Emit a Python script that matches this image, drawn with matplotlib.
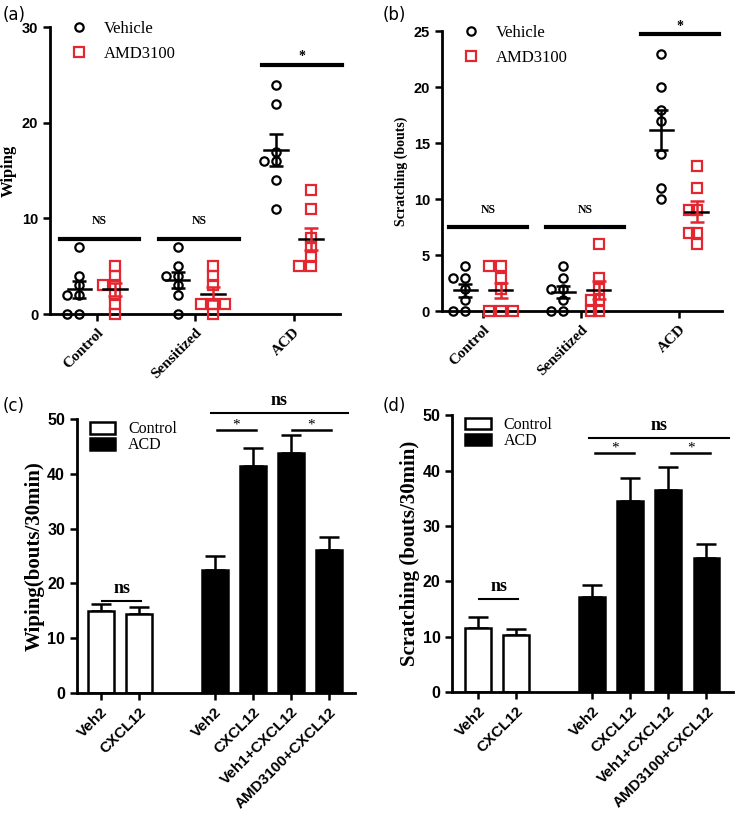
import numpy as np
import matplotlib
matplotlib.use("Agg")
import matplotlib.pyplot as plt
from matplotlib.patches import Patch
from matplotlib.lines import Line2D

# === Data ===
groups_ab = ["Control", "Sensitized", "ACD"]

wiping_vehicle = [[7, 4, 3, 2, 2, 0, 0], [7, 5, 4, 4, 3, 2, 0], [24, 22, 17, 16, 16, 14, 11]]
wiping_amd = [[5, 4, 3, 3, 2, 1, 0], [5, 4, 3, 1, 1, 1, 0], [13, 11, 8, 7, 6, 5, 5]]

scratch_vehicle = [[4, 3, 3, 2, 1, 0, 0], [4, 3, 2, 2, 1, 0, 0], [23, 20, 18, 17, 14, 11, 10]]
scratch_amd = [[4, 4, 3, 2, 0, 0, 0], [6, 3, 2, 1, 1, 0, 0], [13, 11, 9, 9, 7, 7, 6]]

bar_labels = ["Veh2", "CXCL12", "Veh2", "CXCL12", "Veh1+CXCL12", "AMD3100+CXCL12"]
bar_group = ["Control", "Control", "ACD", "ACD", "ACD", "ACD"]
wiping_mean = [14.9, 14.4, 22.4, 41.4, 43.8, 26.1]
wiping_sem = [1.3, 1.3, 2.6, 3.4, 3.4, 2.4]
scratch_mean = [11.5, 10.3, 17.1, 34.5, 36.5, 24.2]
scratch_sem = [2.0, 1.1, 2.2, 4.1, 4.1, 2.5]

RED = "#e3262f"
SERIF = "Liberation Serif"
SANS = "Liberation Sans"

fig = plt.figure(figsize=(7.39, 8.19), dpi=100)


def swarm_x(values, center, xpx, ypx, d=8.0):
    # simple beeswarm: xpx / ypx are pixels per data unit
    h = d / 2 / xpx
    placed = []
    xs = [0] * len(values)
    order = sorted(range(len(values)), key=lambda i: -values[i])
    for i in order:
        y = values[i]
        for k in [0, -1, 1, -2, 2, -3, 3, -4, 4, -5, 5]:
            x = center + k * h
            ok = all(((x - px) * xpx) ** 2 + ((y - py) * ypx) ** 2 >= d ** 2 for px, py in placed)
            if ok:
                break
        placed.append((x, y))
        xs[i] = x
    return xs


def style_axes(ax, ytick_size):
    for s in ["top", "right"]:
        ax.spines[s].set_visible(False)
    for s in ["left", "bottom"]:
        ax.spines[s].set_linewidth(2)
    ax.tick_params(width=1.8, length=5, direction="out")
    for lab in ax.get_yticklabels():
        lab.set_fontfamily(SANS)
        lab.set_fontweight("bold")
        lab.set_fontsize(ytick_size)


def scatter_panel(rect, vehicle, amd, ylim, yticks, ylabel, ylsize, ns_y, star_y, ns_spans,
                  star_span, xlim):
    ax = fig.add_axes(rect)
    off = 0.18
    w_px = rect[2] * 739 / (xlim[1] - xlim[0])
    h_px = rect[3] * 819 / (ylim[1] - ylim[0])
    for i, (v, a) in enumerate(zip(vehicle, amd)):
        c = i + 1
        for vals, x0, col, mk in [(v, c - off, "black", "o"), (a, c + off, RED, "s")]:
            ax.plot(swarm_x(vals, x0, w_px, h_px), vals, mk, mfc="none", mec=col, mew=1.6,
                    ms=6 if mk == "o" else 6.5, ls="none", clip_on=False, zorder=3)
            m = np.mean(vals)
            sem = np.std(vals, ddof=1) / np.sqrt(len(vals))
            ax.plot([x0 - 0.12, x0 + 0.12], [m, m], color="black", lw=1.8, zorder=4)
            ax.errorbar(x0, m, yerr=sem, color=col, capsize=5, elinewidth=1.8,
                        capthick=1.8, fmt="none", zorder=4)
    # significance bars
    for x1, x2 in ns_spans:
        ax.plot([x1, x2], [ns_y, ns_y], color="black", lw=3, clip_on=False)
        ax.text((x1 + x2) / 2, ns_y + (ylim[1] * 0.06), "NS", ha="center", va="center",
                fontfamily=SERIF, fontweight="bold", fontsize=8.5)
    ax.plot(star_span, [star_y, star_y], color="black", lw=3, clip_on=False)
    ax.text(np.mean(star_span), star_y + ylim[1] * 0.03, "*", ha="center", va="center",
            fontfamily=SERIF, fontweight="bold", fontsize=10)
    ax.set_xlim(*xlim)
    ax.set_ylim(*ylim)
    ax.set_yticks(yticks)
    ax.set_xticks([1, 2, 3])
    ax.set_xticklabels(groups_ab, rotation=45, ha="right", rotation_mode="anchor",
                       fontfamily=SERIF, fontweight="bold", fontsize=11)
    ax.set_ylabel(ylabel, fontfamily=SERIF, fontweight="bold", fontsize=ylsize)
    style_axes(ax, 10.5)
    handles = [Line2D([], [], marker="o", mfc="none", mec="black", mew=1.6, ms=6, ls="none"),
               Line2D([], [], marker="s", mfc="none", mec=RED, mew=1.6, ms=6.5, ls="none")]
    ax.legend(handles, ["Vehicle", "AMD3100"], loc="upper left", bbox_to_anchor=(-0.01, 1.075),
              frameon=False, prop={"family": SERIF, "size": 12}, handletextpad=0.5,
              labelspacing=0.55)
    return ax


def bar_panel(rect, means, sems, ylabel, ctrl_ns_y, top_ns_y, star_y, top_span, star_spans, xlim):
    ax = fig.add_axes(rect)
    x = np.array([0, 1, 3, 4, 5, 6])
    colors = ["white" if g == "Control" else "black" for g in bar_group]
    ax.bar(x, means, width=0.68, color=colors, edgecolor="black", linewidth=1.8, zorder=2)
    ax.errorbar(x, means, yerr=[np.zeros(len(sems)), sems], fmt="none", ecolor="black",
                elinewidth=1.8, capsize=7, capthick=1.8, zorder=1)
    # control ns
    ax.plot([0.03, 1.05], [ctrl_ns_y, ctrl_ns_y], color="black", lw=1.5)
    ax.text(0.55, ctrl_ns_y + 2.2, "ns", ha="center", va="center", fontfamily=SERIF,
            fontweight="bold", fontsize=13)
    ax.plot(top_span, [top_ns_y, top_ns_y], color="black", lw=1.5, clip_on=False)
    ax.text(np.mean(top_span), top_ns_y + 2.2, "ns", ha="center", va="center", fontfamily=SERIF,
            fontweight="bold", fontsize=13, clip_on=False)
    for span in star_spans:
        ax.plot(span, [star_y, star_y], color="black", lw=1.8, clip_on=False)
        ax.text(np.mean(span), star_y + 0.9, "*", ha="center", va="center", fontfamily=SERIF,
                fontsize=11, clip_on=False)
    ax.set_xlim(*xlim)
    ax.set_ylim(0, 50)
    ax.set_yticks([0, 10, 20, 30, 40, 50])
    ax.set_xticks(x)
    ax.set_xticklabels(bar_labels, rotation=45, ha="right", rotation_mode="anchor",
                       fontfamily=SANS, fontweight="bold", fontsize=11)
    ax.set_ylabel(ylabel, fontfamily=SERIF, fontweight="bold", fontsize=15, labelpad=2)
    style_axes(ax, 11.5)
    handles = [Patch(facecolor="white", edgecolor="black", linewidth=1.8),
               Patch(facecolor="black", edgecolor="black", linewidth=1.8)]
    ax.legend(handles, ["Control", "ACD"], loc="upper left", bbox_to_anchor=(-0.005, 1.045),
              frameon=False, prop={"family": SERIF, "size": 11.5}, handlelength=1.6,
              handleheight=0.75, labelspacing=0.0, handletextpad=0.8)
    return ax


scatter_panel([0.0677, 0.6166, 0.392, 0.350], wiping_vehicle, wiping_amd, (0, 30),
              [0, 10, 20, 30], "Wiping", 12, 7.9, 26.1,
              [(0.62, 1.43), (1.63, 2.44)], (2.68, 3.49), (0.52, 3.47))
scatter_panel([0.598, 0.620, 0.379, 0.342], scratch_vehicle, scratch_amd, (0, 25),
              [0, 5, 10, 15, 20, 25], "Scratching (bouts)", 10, 7.5, 24.7,
              [(0.65, 1.45), (1.64, 2.44)], (2.61, 3.41), (0.58, 3.44))

bar_panel([0.104, 0.154, 0.376, 0.334], wiping_mean, wiping_sem, "Wiping(bouts/30min)",
          16.8, 51.2, 48.1, (2.9, 6.5), [(3.05, 4.08), (5.03, 6.05)], (-0.63, 6.68))
bar_panel([0.612, 0.155, 0.380, 0.338], scratch_mean, scratch_sem, "Scratching (bouts/30min)",
          16.8, 45.9, 43.1, (2.92, 6.58), [(3.08, 4.1), (5.08, 6.1)], (-0.68, 6.7))

for label, x, y in [("(a)", 0.003, 0.993), ("(b)", 0.518, 0.993), ("(c)", 0.003, 0.515), ("(d)", 0.518, 0.515)]:
    fig.text(x, y, label, ha="left", va="top", fontsize=12, fontfamily="DejaVu Sans")

fig.savefig("out.png", dpi=100)
